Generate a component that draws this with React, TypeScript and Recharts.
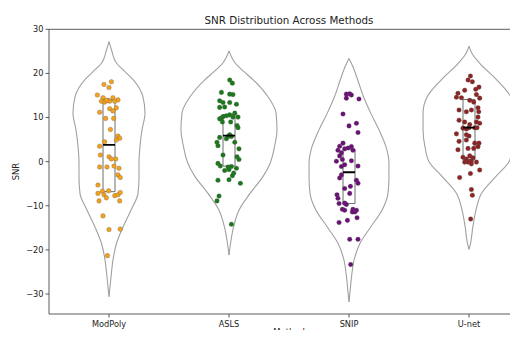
import { ScatterChart, Scatter, XAxis, YAxis, ReferenceLine } from 'recharts';

const methods = ['ModPoly', 'ASLS', 'SNIP', 'U-net'];
const pointColors = ['#f4a21c', '#1a7a1a', '#6c0f78', '#8e2323'];
const yTicks = [-30, -20, -10, 0, 10, 20, 30];

// jittered points (offset in category units, SNR value)
const modPolyJitter = [0.02, -0.042, 0, -0.097, -0.05, -0.008, 0.033, 0.075, -0.063, -0.036, 0.006, 0.048, -0.022, -0.078, 0.006, 0.061, 0.033, -0.028, 0.039, 0.012, 0.075, 0.089, 0.061, -0.036, -0.078, -0.072, 0, 0.02, 0.056, -0.078, -0.017, 0.042, 0.083, 0.075, 0.094, -0.092, -0.055, -0.092, -0.042, -0.003, 0.048, 0.075, 0.094, -0.022, -0.083, 0.089, -0.05, 0, 0.094, -0.013];
const modPolySnr = [18.1, 17.5, 16.8, 15.1, 14.5, 13.9, 14.5, 14.0, 13.7, 13.5, 13.7, 13.7, 13.9, 11.2, 12.0, 12.2, 11.5, 9.8, 9.8, 7.3, 5.8, 5.3, 4.9, 4.5, 3.5, 1.5, 1.1, 0.6, 0.6, -1.2, -1.2, -1.0, -1.5, -3.0, -3.6, -5.3, -6.7, -7.2, -7.5, -6.6, -7.7, -7.5, -7.0, -8.2, -8.9, -8.9, -12.3, -15.4, -15.3, -21.3];

const aslsJitter = [0.006, 0.028, -0.063, 0.006, 0.033, -0.078, -0.05, 0.006, 0.062, -0.078, -0.036, 0.048, -0.05, -0.063, -0.022, 0.006, 0.033, -0.078, 0.075, -0.055, 0.014, 0.067, 0.075, -0.078, 0.006, -0.022, 0.02, -0.008, -0.1, -0.092, 0.048, 0.083, -0.05, 0.067, 0.083, -0.092, -0.072, -0.008, 0.02, 0.062, -0.036, 0, 0.039, 0.028, -0.092, 0, 0.095, -0.083, -0.1, 0.02];
const aslsSnr = [18.5, 17.8, 15.7, 15.3, 15.2, 13.8, 13.4, 13.4, 13.0, 12.3, 12.4, 11.0, 10.2, 9.9, 10.4, 10.6, 10.1, 9.7, 10.1, 9.0, 9.0, 8.2, 7.7, 5.5, 6.1, 5.2, 5.7, 5.7, 4.4, 3.6, 4.4, 2.9, 1.5, 1.1, 0.5, -0.4, -1.0, -1.2, -1.1, -1.5, -2.0, -1.8, -2.6, -3.2, -4.2, -4.1, -4.9, -7.8, -8.9, -14.2];

const snipJitter = [-0.022, 0.006, 0.02, -0.022, 0.083, -0.05, 0, 0.062, 0.075, -0.05, -0.078, -0.092, -0.063, -0.036, -0.008, 0.02, 0.033, -0.078, -0.055, -0.105, -0.063, -0.036, 0.075, 0.02, -0.063, -0.078, 0.062, 0.075, -0.036, 0.012, 0.006, -0.1, -0.092, -0.083, -0.036, -0.022, -0.055, -0.036, 0.033, 0.062, 0.048, 0.028, -0.083, -0.013, 0.067, 0.006, 0.075, 0.014];
const snipSnr = [15.3, 15.4, 15.1, 14.4, 14.2, 10.8, 8.1, 8.7, 6.6, 4.2, 3.5, 2.6, 2.0, 2.9, 3.1, 3.4, 2.6, 1.3, 0.5, 0.1, -1.1, -0.7, -1.0, 0.2, -3.0, -3.7, -4.2, -4.9, -6.1, -5.6, -7.2, -7.5, -8.3, -9.5, -9.4, -9.7, -10.8, -11.0, -10.8, -11.0, -11.4, -11.4, -13.8, -13.3, -12.7, -17.6, -17.6, -23.3];

const unetJitter = [0.012, -0.008, 0.028, -0.036, -0.092, -0.105, -0.063, 0.056, 0.083, 0.062, 0.089, 0.006, 0.039, -0.083, -0.022, 0.02, 0.075, 0.081, -0.083, -0.036, 0.075, 0.062, 0.006, 0.089, -0.05, -0.022, 0, 0.048, 0.067, -0.105, -0.022, 0, -0.083, -0.022, 0.048, 0.083, 0.075, -0.092, -0.008, 0.039, -0.05, -0.022, 0.006, 0.02, -0.008, 0.033, 0.02, -0.036, 0.062, 0.012, 0.089, -0.078, 0.02, 0.028, 0.014];
const unetSnr = [19.4, 18.5, 18.1, 16.2, 15.5, 14.6, 14.5, 16.4, 16.9, 15.2, 14.4, 13.9, 13.5, 11.7, 11.3, 11.7, 12.2, 11.3, 9.4, 9.0, 10.1, 9.0, 8.4, 8.7, 7.6, 7.4, 7.7, 7.7, 7.7, 6.3, 6.1, 5.8, 4.6, 4.9, 4.2, 4.2, 3.4, 2.7, 3.0, 3.0, 1.0, 0.6, 1.3, 0.2, -0.1, 0.9, -0.5, -0.1, -0.1, -2.7, -1.9, -3.6, -6.3, -7.6, -13.0];

// violin outlines: SNR level and half width (category units)
const modPolyLevels = [27.2, 25.3, 22.3, 20.4, 18.5, 14.7, 11, 7.2, 3.4, -0.4, -3.4, -7.2, -11, -14.8, -18.5, -22.3, -26.1, -30.6];
const modPolyWidths = [0, 0.021, 0.063, 0.133, 0.204, 0.283, 0.3, 0.275, 0.258, 0.25, 0.25, 0.242, 0.183, 0.117, 0.063, 0.033, 0.017, 0];
const aslsLevels = [25.1, 23.7, 22.3, 20.4, 18.5, 14.7, 11, 7.2, 3.4, -0.4, -3.4, -7.2, -11, -14.8, -18.5, -21.2];
const aslsWidths = [0, 0.021, 0.053, 0.125, 0.204, 0.325, 0.392, 0.4, 0.379, 0.342, 0.283, 0.175, 0.083, 0.038, 0.013, 0];
const snipLevels = [23.4, 21.5, 18.5, 14.7, 11, 7.2, 3.4, -0.4, -3.4, -7.2, -11, -14.8, -18.5, -22.3, -26.1, -29.9, -31.8];
const snipWidths = [0, 0.033, 0.073, 0.121, 0.181, 0.25, 0.308, 0.333, 0.333, 0.325, 0.275, 0.181, 0.092, 0.042, 0.021, 0.007, 0];
const unetLevels = [26.2, 24.5, 22.3, 18.5, 14.7, 11, 7.2, 3.4, 0, -3.4, -7.2, -11, -14.8, -18.5, -19.9];
const unetWidths = [0, 0.025, 0.09, 0.233, 0.348, 0.383, 0.383, 0.367, 0.333, 0.223, 0.104, 0.058, 0.032, 0.013, 0];

// box stats
const q1 = [-6.8, -1.0, -9.5, 0.5];
const medians = [3.8, 5.9, -2.4, 7.7];
const q3 = [14.0, 10.7, 2.8, 14.1];

const font = '"DejaVu Sans", sans-serif';
const BOX_HALF = 0.05;

const strips = [
  [modPolySnr, modPolyJitter],
  [aslsSnr, aslsJitter],
  [snipSnr, snipJitter],
  [unetSnr, unetJitter],
].map(([snr, jit], i) => snr.map((y, k) => ({ x: i + jit[k], y })));

const violins = [
  [modPolyLevels, modPolyWidths],
  [aslsLevels, aslsWidths],
  [snipLevels, snipWidths],
  [unetLevels, unetWidths],
].map(([lv, w], i) => ({
  left: lv.map((y, k) => ({ x: i - w[k], y })),
  right: lv.map((y, k) => ({ x: i + w[k], y })),
}));

const boxes = methods.map((_, i) => [
  { x: i - BOX_HALF, y: q1[i] },
  { x: i + BOX_HALF, y: q1[i] },
  { x: i + BOX_HALF, y: q3[i] },
  { x: i - BOX_HALF, y: q3[i] },
  { x: i - BOX_HALF, y: q1[i] },
]);

const medianLines = methods.map((_, i) => [
  { x: i - BOX_HALF, y: medians[i] },
  { x: i + BOX_HALF, y: medians[i] },
]);

const noShape = () => <g />;

export default function App() {
  return (
    <div style={{ position: 'relative', width: 518, height: 338, margin: -8, overflow: 'hidden', background: '#fff', fontFamily: font }}>
      <ScatterChart width={540} height={338} margin={{ top: 29.3, right: 11, bottom: 0, left: 0 }}>
        <XAxis
          type="number"
          dataKey="x"
          domain={[-0.5, 3.5]}
          ticks={[0, 1, 2, 3]}
          interval={0}
          allowDataOverflow
          tickFormatter={(v) => methods[v]}
          height={24}
          tickSize={3.5}
          tickMargin={3.5}
          tick={{ fontSize: 8.2, fill: '#222', fontFamily: font }}
          tickLine={{ stroke: '#333', strokeWidth: 0.8 }}
          axisLine={{ stroke: '#333', strokeWidth: 0.8 }}
        />
        <YAxis
          type="number"
          dataKey="y"
          domain={[-34.53, 30]}
          ticks={yTicks}
          interval={0}
          allowDataOverflow
          width={49}
          tickSize={3.5}
          tickFormatter={(v) => String(v).replace('-', '\u2212')}
          tick={{ fontSize: 8.2, fill: '#222', fontFamily: font }}
          tickLine={{ stroke: '#333', strokeWidth: 0.8 }}
          axisLine={{ stroke: '#333', strokeWidth: 0.8 }}
          label={{
            value: 'SNR',
            content: ({ viewBox }) => (
              <text
                x={16.5}
                y={viewBox.y + viewBox.height / 2}
                transform={`rotate(-90 16.5 ${viewBox.y + viewBox.height / 2})`}
                textAnchor="middle"
                dominantBaseline="central"
                fontSize={8.4}
                fill="#222"
                fontFamily={font}
              >
                SNR
              </text>
            ),
          }}
        />
        <ReferenceLine y={30} stroke="#333" strokeWidth={0.8} />
        {violins.map((v, i) => [
          <Scatter key={`vl${i}`} data={v.left} line={{ stroke: '#a0a0a0', strokeWidth: 1.1 }} lineJointType="monotoneY" shape={noShape} isAnimationActive={false} />,
          <Scatter key={`vr${i}`} data={v.right} line={{ stroke: '#a0a0a0', strokeWidth: 1.1 }} lineJointType="monotoneY" shape={noShape} isAnimationActive={false} />,
        ])}
        {boxes.map((b, i) => (
          <Scatter key={`b${i}`} data={b} line={{ stroke: '#6e6e6e', strokeWidth: 1 }} shape={noShape} isAnimationActive={false} />
        ))}
        {strips.map((pts, i) => (
          <Scatter
            key={`p${i}`}
            data={pts}
            isAnimationActive={false}
            shape={(p) => <circle cx={p.cx} cy={p.cy} r={2.3} fill={pointColors[i]} stroke="#555" strokeWidth={0.3} />}
          />
        ))}
        {medianLines.map((m, i) => (
          <Scatter key={`m${i}`} data={m} line={{ stroke: '#000', strokeWidth: 1.8 }} shape={noShape} isAnimationActive={false} />
        ))}
      </ScatterChart>
      <div style={{ position: 'absolute', left: 0, top: 13, width: 578, textAlign: 'center', fontSize: 10.3, lineHeight: '14px', color: '#222' }}>
        SNR Distribution Across Methods
      </div>
      <div style={{ position: 'absolute', left: 0, top: 327, width: 578, textAlign: 'center', fontSize: 8.4, lineHeight: '11px', color: '#222' }}>
        Method
      </div>
    </div>
  );
}
